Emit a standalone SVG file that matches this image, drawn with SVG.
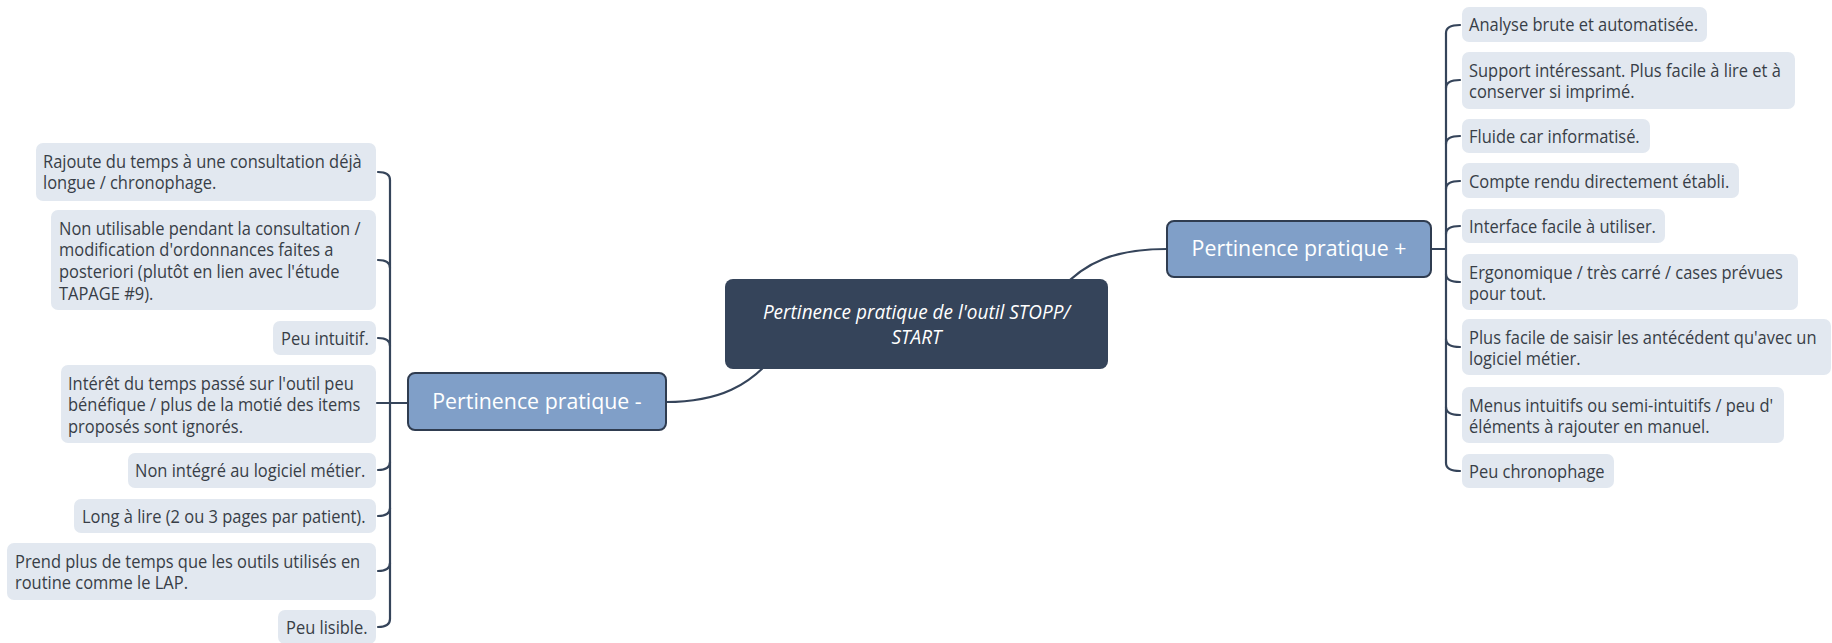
<svg xmlns="http://www.w3.org/2000/svg" width="1832" height="643" viewBox="0 0 1832 643">
<style>
.leaf{fill:#e2e8f0}
.t{font-family:"Open Sans","Noto Sans",sans-serif;font-size:18.5px;fill:#383e47}
.hd{font-family:"Open Sans","Noto Sans",sans-serif;font-size:22px;fill:#ffffff;text-anchor:middle}
.ct{font-family:"Open Sans","Noto Sans",sans-serif;font-size:20px;font-style:italic;fill:#ffffff;text-anchor:middle}
.mid{fill:#809fc8;stroke:#2f3c50;stroke-width:2}
.root{fill:#35445a}
.c{fill:none;stroke:#35445a;stroke-width:2.2;stroke-linecap:round}
</style>
<g id="connectors">
<path class="c" d="M1060 290 C1085 262 1115 249 1167 249"/>
<path class="c" d="M775 355 C750 385 720 402 666 402"/>
<path class="c" d="M390 180 L390 619"/>
<path class="c" d="M390 180 Q390 172 378 172"/>
<path class="c" d="M390 268 Q390 260 378 260"/>
<path class="c" d="M390 346 Q390 338 378 338"/>
<path class="c" d="M377 403 L408 403"/>
<path class="c" d="M390 462 Q390 470 378 470"/>
<path class="c" d="M390 508 Q390 516 378 516"/>
<path class="c" d="M390 563 Q390 571 378 571"/>
<path class="c" d="M390 619 Q390 627 378 627"/>
<path class="c" d="M1446 33 L1446 463"/>
<path class="c" d="M1431 249 L1446 249"/>
<path class="c" d="M1446 33 Q1446 25 1460 25"/>
<path class="c" d="M1446 88 Q1446 80 1460 80"/>
<path class="c" d="M1446 144 Q1446 136 1460 136"/>
<path class="c" d="M1446 189 Q1446 181 1460 181"/>
<path class="c" d="M1446 234 Q1446 226 1460 226"/>
<path class="c" d="M1446 274 Q1446 282 1460 282"/>
<path class="c" d="M1446 339 Q1446 347 1460 347"/>
<path class="c" d="M1446 407 Q1446 415 1460 415"/>
<path class="c" d="M1446 463 Q1446 471 1460 471"/>
</g>
<g id="root">
<rect class="root" x="725" y="279" width="383" height="90" rx="8"/>
<text class="ct" transform="translate(916.5 318.5) scale(0.95 1)">Pertinence pratique de l'outil STOPP/</text>
<text class="ct" transform="translate(916.5 343.5) scale(0.95 1)">START</text>
</g>
<g id="neg">
<rect class="mid" x="408" y="373" width="258" height="57" rx="7"/>
<text class="hd" transform="translate(537 409) scale(0.97 1)">Pertinence pratique -</text>
</g>
<g id="pos">
<rect class="mid" x="1167" y="221" width="264" height="56" rx="7"/>
<text class="hd" transform="translate(1299 256) scale(0.97 1)">Pertinence pratique +</text>
</g>
<g id="l1"><rect class="leaf" x="36" y="143" width="340" height="58" rx="7"/>
<text class="t" transform="translate(43 167.5) scale(0.89 1)"><tspan x="0" y="0">Rajoute du temps à une consultation déjà</tspan><tspan x="0" y="22">longue / chronophage.</tspan></text></g>
<g id="l2"><rect class="leaf" x="51" y="210" width="325" height="100" rx="7"/>
<text class="t" transform="translate(59 234.5) scale(0.89 1)"><tspan x="0" y="0">Non utilisable pendant la consultation /</tspan><tspan x="0" y="22">modification d'ordonnances faites a</tspan><tspan x="0" y="44">posteriori (plutôt en lien avec l'étude</tspan><tspan x="0" y="66">TAPAGE #9).</tspan></text></g>
<g id="l3"><rect class="leaf" x="273" y="321" width="103" height="34" rx="7"/>
<text class="t" transform="translate(281 344.5) scale(0.89 1)">Peu intuitif.</text></g>
<g id="l4"><rect class="leaf" x="61" y="365" width="315" height="78" rx="7"/>
<text class="t" transform="translate(68 389.5) scale(0.89 1)"><tspan x="0" y="0">Intérêt du temps passé sur l'outil peu</tspan><tspan x="0" y="22">bénéfique / plus de la motié des items</tspan><tspan x="0" y="44">proposés sont ignorés.</tspan></text></g>
<g id="l5"><rect class="leaf" x="128" y="453" width="248" height="35" rx="7"/>
<text class="t" transform="translate(135 477) scale(0.89 1)">Non intégré au logiciel métier.</text></g>
<g id="l6"><rect class="leaf" x="74" y="499" width="302" height="34" rx="7"/>
<text class="t" transform="translate(82 523) scale(0.89 1)">Long à lire (2 ou 3 pages par patient).</text></g>
<g id="l7"><rect class="leaf" x="7" y="543" width="369" height="57" rx="7"/>
<text class="t" transform="translate(15 567.5) scale(0.89 1)"><tspan x="0" y="0">Prend plus de temps que les outils utilisés en</tspan><tspan x="0" y="22">routine comme le LAP.</tspan></text></g>
<g id="l8"><rect class="leaf" x="278" y="610" width="98" height="34" rx="7"/>
<text class="t" transform="translate(286 634) scale(0.89 1)">Peu lisible.</text></g>
<g id="r1"><rect class="leaf" x="1462" y="7" width="245" height="35" rx="7"/>
<text class="t" transform="translate(1469 31) scale(0.89 1)">Analyse brute et automatisée.</text></g>
<g id="r2"><rect class="leaf" x="1462" y="52" width="333" height="57" rx="7"/>
<text class="t" transform="translate(1469 76.5) scale(0.89 1)"><tspan x="0" y="0">Support intéressant. Plus facile à lire et à</tspan><tspan x="0" y="22">conserver si imprimé.</tspan></text></g>
<g id="r3"><rect class="leaf" x="1462" y="119" width="188" height="34" rx="7"/>
<text class="t" transform="translate(1469 143) scale(0.89 1)">Fluide car informatisé.</text></g>
<g id="r4"><rect class="leaf" x="1462" y="163" width="277" height="35" rx="7"/>
<text class="t" transform="translate(1469 187.5) scale(0.89 1)">Compte rendu directement établi.</text></g>
<g id="r5"><rect class="leaf" x="1462" y="209" width="203" height="34" rx="7"/>
<text class="t" transform="translate(1469 233) scale(0.89 1)">Interface facile à utiliser.</text></g>
<g id="r6"><rect class="leaf" x="1462" y="254" width="336" height="56" rx="7"/>
<text class="t" transform="translate(1469 278.5) scale(0.89 1)"><tspan x="0" y="0">Ergonomique / très carré / cases prévues</tspan><tspan x="0" y="22">pour tout.</tspan></text></g>
<g id="r7"><rect class="leaf" x="1462" y="319" width="369" height="56" rx="7"/>
<text class="t" transform="translate(1469 343.5) scale(0.89 1)"><tspan x="0" y="0">Plus facile de saisir les antécédent qu'avec un</tspan><tspan x="0" y="22">logiciel métier.</tspan></text></g>
<g id="r8"><rect class="leaf" x="1462" y="387" width="322" height="56" rx="7"/>
<text class="t" transform="translate(1469 411.5) scale(0.89 1)"><tspan x="0" y="0">Menus intuitifs ou semi-intuitifs / peu d'</tspan><tspan x="0" y="22">éléments à rajouter en manuel.</tspan></text></g>
<g id="r9"><rect class="leaf" x="1462" y="454" width="152" height="34" rx="7"/>
<text class="t" transform="translate(1469 478) scale(0.89 1)">Peu chronophage</text></g>
</svg>
